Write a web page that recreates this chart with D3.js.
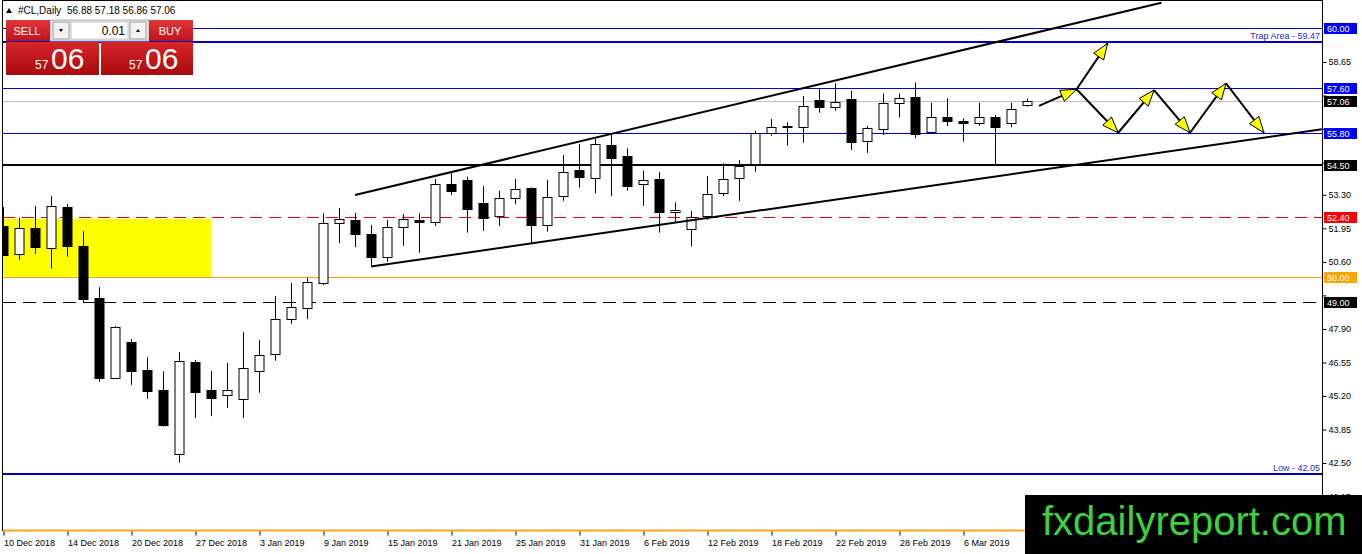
<!DOCTYPE html>
<html>
<head>
<meta charset="utf-8">
<script src="https://d3js.org/d3.v7.min.js"></script>
<style>
  body { margin: 0; background: #fff; }
  text { font-family: "Liberation Sans", Arial, sans-serif; }
</style>
</head>
<body>
<div id="vis"></div>
<script>
  // trading days shown on the chart
  var dates = [
    '2018-12-10','2018-12-11','2018-12-12','2018-12-13','2018-12-14','2018-12-17','2018-12-18','2018-12-19',
    '2018-12-20','2018-12-21','2018-12-24','2018-12-26','2018-12-27','2018-12-28','2018-12-31',
    '2019-01-02','2019-01-03','2019-01-04','2019-01-07','2019-01-08','2019-01-09','2019-01-10','2019-01-11',
    '2019-01-14','2019-01-15','2019-01-16','2019-01-17','2019-01-18','2019-01-21','2019-01-22','2019-01-23',
    '2019-01-24','2019-01-25','2019-01-28','2019-01-29','2019-01-30','2019-01-31',
    '2019-02-01','2019-02-04','2019-02-05','2019-02-06','2019-02-07','2019-02-08','2019-02-11','2019-02-12',
    '2019-02-13','2019-02-14','2019-02-15','2019-02-18','2019-02-19','2019-02-20','2019-02-21','2019-02-22',
    '2019-02-25','2019-02-26','2019-02-27','2019-02-28',
    '2019-03-01','2019-03-04','2019-03-05','2019-03-06','2019-03-07','2019-03-08','2019-03-11','2019-03-12'
  ];

  var open = [52.05,50.91,51.95,51.17,52.80,51.24,49.13,45.90,47.36,46.23,45.43,42.84,46.56,45.43,45.23,45.09,
    46.22,46.88,48.29,48.73,49.72,52.15,52.29,51.72,50.78,51.99,52.29,52.19,53.74,53.90,52.96,52.42,
    53.16,53.56,52.11,53.23,54.29,53.99,55.31,54.86,53.74,53.93,52.60,51.95,52.46,53.36,53.97,54.53,
    55.78,56.04,56.02,57.12,56.83,57.15,55.47,55.94,56.99,57.23,55.82,56.42,56.27,56.18,56.42,56.18,56.88];
  var high = [52.81,52.38,52.85,53.25,52.93,51.84,49.58,48.02,47.49,46.76,46.19,46.97,46.65,46.21,46.53,47.77,
    47.45,49.23,49.75,49.96,52.56,52.77,52.57,52.09,52.29,52.53,52.56,53.93,54.17,54.03,53.66,53.46,
    53.94,53.60,53.90,54.90,55.35,55.55,55.71,55.17,54.27,54.22,53.00,52.65,54.06,54.57,54.70,55.88,
    56.35,56.22,57.28,57.59,57.79,57.49,56.07,57.39,57.39,57.83,57.01,57.19,56.38,57.01,56.52,57.01,57.18];
  var low = [51.24,50.68,50.92,50.33,50.81,48.98,45.77,45.90,45.65,45.08,43.96,42.51,44.31,44.39,44.72,44.31,
    45.33,46.62,48.11,48.29,49.67,51.36,51.19,50.41,50.61,51.25,50.97,52.05,53.29,51.78,51.84,52.05,
    52.92,51.35,51.82,53.06,53.59,53.36,53.25,53.47,52.86,51.78,52.19,51.22,52.29,53.25,53.06,54.23,
    55.68,55.28,55.40,56.61,56.69,55.11,54.99,55.71,56.42,55.58,55.80,56.08,55.44,56.08,54.50,56.02,56.86];
  var close = [50.88,51.95,51.17,52.85,51.21,49.12,45.90,47.97,46.18,45.37,44.03,46.60,45.37,45.09,45.43,46.32,
    46.85,48.29,48.77,49.78,52.15,52.32,51.71,50.78,51.99,52.31,52.19,53.74,53.47,52.73,52.36,53.16,
    53.52,52.06,53.23,54.21,53.99,55.34,54.80,53.67,53.90,52.60,52.69,52.42,53.33,53.93,54.46,55.78,
    56.04,56.06,56.88,56.83,57.05,55.42,55.98,56.99,57.21,55.75,56.42,56.25,56.18,56.42,56.02,56.74,57.06];

  var priceTicks = [58.65, 57.30, 55.95, 54.60, 53.30, 51.95, 50.60, 49.25, 47.90, 46.55, 45.20, 43.85, 42.50, 41.15];
  var levels = [60.00, 59.47, 57.60, 57.06, 55.80, 54.50, 52.40, 50.00, 49.00, 42.05];
  var bottomLevel = 39.80;
  var tagged = [60.00, 57.60, 57.06, 55.80, 54.50, 52.40, 50.00, 49.00];
  var notes = [{p: 59.47, t: 'Trap Area - 59.47'}, {p: 42.05, t: 'Low - 42.05'}];

  // zone, trend channel and projected path: [bar index, price]
  var zone = [[-1, 52.33], [13, 50.00]];
  var upperChannel = [[22, 53.29], [72.4, 61.04]];
  var lowerChannel = [[23, 50.41], [82.44, 55.94]];
  var arrows = [
    [[64.75, 56.88], [67.1, 57.55]],
    [[67.1, 57.55], [69.04, 59.40]],
    [[67.1, 57.55], [69.7, 55.80]],
    [[69.7, 55.80], [71.94, 57.52]],
    [[71.94, 57.52], [74.19, 55.80]],
    [[74.19, 55.80], [76.44, 57.79]],
    [[76.44, 57.79], [78.81, 55.80]]
  ];

  var width = 1362, height = 554;
  var plotRight = 1322, plotBottom = 530;

  var svg = d3.select('#vis').append('svg')
    .attr('width', width).attr('height', height);

  var x = d3.scaleLinear().domain([0, 64]).range([3, 1027]);
  var y = d3.scaleLinear().domain([58.65, 42.50]).range([62, 463]);

  svg.append('clipPath').attr('id', 'plot')
    .append('rect').attr('x', 3).attr('y', 1).attr('width', plotRight - 3).attr('height', plotBottom - 1);

  var g = svg.append('g').attr('clip-path', 'url(#plot)');

  var levelStyle = {
    60.00: ['#0000cd', 1, null], 59.47: ['#0000cd', 2, null], 57.60: ['#0000cd', 1, null],
    57.06: ['#c0c0c0', 1, null], 55.80: ['#0000cd', 1, null], 54.50: ['#000', 2, null],
    52.40: ['#e80000', 1, '12,7'], 50.00: ['#f5a000', 1, null], 49.00: ['#000', 1, '13,7'],
    42.05: ['#0000b0', 2, null]
  };

  // yellow zone
  g.append('rect')
    .attr('x', x(zone[0][0])).attr('y', y(zone[0][1]))
    .attr('width', x(zone[1][0]) - x(zone[0][0]))
    .attr('height', y(zone[1][1]) - y(zone[0][1]))
    .style('fill', '#ffff00');

  g.selectAll('.level').data(levels).enter().append('line')
    .attr('x1', 3).attr('x2', plotRight)
    .attr('y1', function(d) { return Math.round(y(d)) + (levelStyle[d][1] === 1 ? 0.5 : 0); })
    .attr('y2', function(d) { return Math.round(y(d)) + (levelStyle[d][1] === 1 ? 0.5 : 0); })
    .style('stroke', function(d) { return levelStyle[d][0]; })
    .style('stroke-width', function(d) { return levelStyle[d][1]; })
    .style('stroke-dasharray', function(d) { return levelStyle[d][2]; });

  // candles
  var bars = d3.range(dates.length);
  g.selectAll('.wick').data(bars).enter().append('line')
    .attr('x1', function(i) { return Math.round(x(i)) + 0.5; })
    .attr('x2', function(i) { return Math.round(x(i)) + 0.5; })
    .attr('y1', function(i) { return y(high[i]); })
    .attr('y2', function(i) { return y(low[i]); })
    .style('stroke', '#000').style('stroke-width', 1);

  g.selectAll('.body').data(bars).enter().append('rect')
    .attr('x', function(i) { return Math.round(x(i)) - 4; })
    .attr('y', function(i) { return Math.round(y(Math.max(open[i], close[i]))) + 0.5; })
    .attr('width', 9)
    .attr('height', function(i) { return Math.max(1, Math.round(y(Math.min(open[i], close[i])) - y(Math.max(open[i], close[i])))); })
    .style('fill', function(i) { return close[i] >= open[i] ? '#fff' : '#000'; })
    .style('stroke', '#000').style('stroke-width', 1);

  // channel
  var line = d3.line().x(function(d) { return x(d[0]); }).y(function(d) { return y(d[1]); });
  [upperChannel, lowerChannel].forEach(function(c) {
    g.append('path').attr('d', line(c))
      .style('fill', 'none').style('stroke', '#000').style('stroke-width', 2);
  });

  // projected path arrows
  arrows.forEach(function(a) {
    var x1 = x(a[0][0]), y1 = y(a[0][1]), x2 = x(a[1][0]), y2 = y(a[1][1]);
    g.append('line').attr('x1', x1).attr('y1', y1).attr('x2', x2).attr('y2', y2)
      .style('stroke', '#000').style('stroke-width', 2);
    var ang = Math.atan2(y2 - y1, x2 - x1), len = 16, half = 6;
    var bx = x2 - len * Math.cos(ang), by = y2 - len * Math.sin(ang);
    var pts = [[x2, y2],
      [bx + half * Math.sin(ang), by - half * Math.cos(ang)],
      [bx - half * Math.sin(ang), by + half * Math.cos(ang)]];
    g.append('polygon').attr('points', pts.map(function(p) { return p.join(','); }).join(' '))
      .style('fill', '#ffff00').style('stroke', '#000').style('stroke-width', 1);
  });

  // level notes
  g.selectAll('.note').data(notes).enter().append('text')
    .attr('x', plotRight - 2).attr('y', function(d) { return y(d.p) - 3; })
    .attr('text-anchor', 'end')
    .style('font-size', '9px').style('fill', '#2626c8')
    .text(function(d) { return d.t; });

  // frame
  svg.append('rect').attr('x', 2.5).attr('y', 0.5).attr('width', plotRight - 2).attr('height', plotBottom)
    .style('fill', 'none').style('stroke', '#000').style('stroke-width', 1);

  // orange line along the bottom edge
  svg.append('line').attr('x1', 3).attr('x2', plotRight)
    .attr('y1', Math.round(y(bottomLevel)) + 0.5).attr('y2', Math.round(y(bottomLevel)) + 0.5)
    .style('stroke', '#f5a623').style('stroke-width', 2);

  // price axis (labels sitting under a tag are left out)
  var yAxis = svg.append('g').attr('transform', 'translate(' + (plotRight + 0.5) + ',0)')
    .call(d3.axisRight(y).tickValues(priceTicks).tickSize(4).tickPadding(2)
      .tickFormat(function(d) {
        var hidden = tagged.some(function(t) { return Math.abs(y(t) - y(d)) < 10; });
        return hidden ? '' : d.toFixed(2);
      }));
  yAxis.select('.domain').remove();
  yAxis.selectAll('text').style('font-size', '9px').style('font-family', '"Liberation Sans", Arial, sans-serif').attr('fill', '#000');

  var tagColor = {60.00: '#0000ff', 57.60: '#0000ff', 57.06: '#000', 55.80: '#0000ff', 54.50: '#000',
    52.40: '#ff0000', 50.00: '#ffa500', 49.00: '#000'};
  var tags = svg.selectAll('.tag').data(tagged).enter().append('g');
  tags.append('rect')
    .attr('x', plotRight + 2).attr('y', function(d) { return Math.round(y(d)) - 5; })
    .attr('width', 33).attr('height', 11)
    .style('fill', function(d) { return tagColor[d]; });
  tags.append('text')
    .attr('x', plotRight + 5).attr('y', function(d) { return Math.round(y(d)) + 3.5; })
    .style('font-size', '9px').style('fill', '#fff')
    .text(function(d) { return d.toFixed(2); });

  // time axis
  var fmt = d3.timeFormat('%-d %b %Y'), parse = d3.timeParse('%Y-%m-%d');
  var xAxis = svg.append('g').attr('transform', 'translate(0.5,' + (plotBottom + 1.5) + ')')
    .call(d3.axisBottom(x).tickValues(d3.range(0, 61, 4)).tickSize(4).tickPadding(4)
      .tickFormat(function(i) { return fmt(parse(dates[i])); }));
  xAxis.select('.domain').remove();
  xAxis.selectAll('text').attr('text-anchor', 'start').attr('dx', 0)
    .style('font-size', '9px').style('font-family', '"Liberation Sans", Arial, sans-serif').attr('fill', '#000');

  // header
  svg.append('path').attr('d', 'M6,13 L9,8 L12,13 Z').style('fill', '#000');
  svg.append('text').attr('x', 18).attr('y', 14).style('font-size', '10px').text('#CL,Daily');
  svg.append('text').attr('x', 67).attr('y', 14).style('font-size', '10px').text(open[64].toFixed(2) + ' ' + high[64].toFixed(2) + ' ' + low[64].toFixed(2) + ' ' + close[64].toFixed(2));

  // one-click trading panel
  var defs = svg.append('defs');
  var g1 = defs.append('linearGradient').attr('id', 'btn').attr('x1', 0).attr('y1', 0).attr('x2', 0).attr('y2', 1);
  g1.append('stop').attr('offset', 0).attr('stop-color', '#e0383c');
  g1.append('stop').attr('offset', 1).attr('stop-color', '#c0141a');
  var g2 = defs.append('linearGradient').attr('id', 'big').attr('x1', 0).attr('y1', 0).attr('x2', 0).attr('y2', 1);
  g2.append('stop').attr('offset', 0).attr('stop-color', '#d8262a');
  g2.append('stop').attr('offset', 1).attr('stop-color', '#a80a0e');

  var panel = svg.append('g');
  panel.append('rect').attr('x', 50).attr('y', 20).attr('width', 99).attr('height', 21).style('fill', '#e6e6e6').style('stroke', '#b0b0b0');
  panel.append('rect').attr('x', 53).attr('y', 22).attr('width', 16).attr('height', 17).style('fill', '#f2f2f2').style('stroke', '#a0a0a0');
  panel.append('rect').attr('x', 71).attr('y', 22).attr('width', 57).attr('height', 17).style('fill', '#fff').style('stroke', '#c8c8c8');
  panel.append('rect').attr('x', 130).attr('y', 22).attr('width', 16).attr('height', 17).style('fill', '#f2f2f2').style('stroke', '#a0a0a0');
  panel.append('path').attr('d', 'M59,29 L63,29 L61,32 Z').style('fill', '#000');
  panel.append('path').attr('d', 'M136,32 L140,32 L138,29 Z').style('fill', '#000');
  panel.append('text').attr('x', 125).attr('y', 35).attr('text-anchor', 'end').style('font-size', '12px').text('0.01');

  panel.append('rect').attr('x', 6).attr('y', 20).attr('width', 44).attr('height', 21).style('fill', 'url(#btn)');
  panel.append('rect').attr('x', 149).attr('y', 20).attr('width', 44).attr('height', 21).style('fill', 'url(#btn)');
  panel.append('text').attr('x', 27).attr('y', 35).attr('text-anchor', 'middle').style('font-size', '11px').style('fill', '#fff').text('SELL');
  panel.append('text').attr('x', 170).attr('y', 35).attr('text-anchor', 'middle').style('font-size', '11px').style('fill', '#fff').text('BUY');

  [[6, 93, 35], [101, 92, 129]].forEach(function(b) {
    panel.append('rect').attr('x', b[0]).attr('y', 42).attr('width', b[1]).attr('height', 33).style('fill', 'url(#big)');
    panel.append('text').attr('x', b[2]).attr('y', 69).style('font-size', '12px').style('fill', '#fff').text('57');
    panel.append('text').attr('x', b[2] + 16).attr('y', 69).style('font-size', '30px').style('fill', '#fff').text('06');
  });

  // watermark
  svg.append('rect').attr('x', 1025).attr('y', 495).attr('width', 337).attr('height', 59).style('fill', '#000');
  svg.append('text').attr('x', 1042).attr('y', 535).style('font-size', '40px').style('fill', '#3cd23c').text('fxdailyreport.com');
</script>
</body>
</html>
